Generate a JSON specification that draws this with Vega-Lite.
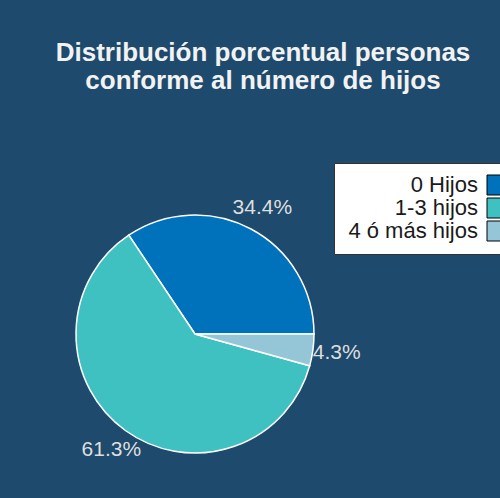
{
  "$schema": "https://vega.github.io/schema/vega-lite/v6.json",
  "autosize": "none",
  "width": 238,
  "height": 238,
  "padding": {"left": 76, "top": 215, "right": 186, "bottom": 45},
  "background": "#1e4a6d",
  "title": {
    "text": ["Distribución porcentual personas", "conforme al número de hijos"],
    "font": "Liberation Sans",
    "fontSize": 26,
    "fontWeight": "bold",
    "color": "#f2f2f2",
    "anchor": "middle",
    "frame": "group",
    "dx": 68,
    "offset": 69,
    "lineHeight": 28
  },
  "data": {
    "values": [
      {"categoria": "0 Hijos", "valor": 0.344},
      {"categoria": "1-3 hijos", "valor": 0.613},
      {"categoria": "4 ó más hijos", "valor": 0.043}
    ]
  },
  "encoding": {
    "theta": {"field": "valor", "type": "quantitative", "stack": true, "scale": {"range": [1.5708, 7.854]}},
    "order": {"field": "categoria", "type": "ordinal", "sort": "descending"}
  },
  "layer": [
    {
      "mark": {"type": "arc", "stroke": "white", "strokeWidth": 1.5},
      "encoding": {
        "color": {
          "field": "categoria",
          "type": "nominal",
          "scale": {"domain": ["0 Hijos", "1-3 hijos", "4 ó más hijos"], "range": ["#0072bb", "#3fc1c1", "#94c6d7"]},
          "legend": {
            "title": null,
            "orient": "none",
            "legendX": 258,
            "legendY": -52,
            "padding": 11,
            "fillColor": "white",
            "strokeColor": "#333333",
            "symbolType": "square",
            "symbolSize": 400,
            "symbolStrokeColor": "black",
            "symbolStrokeWidth": 1,
            "symbolOpacity": 1,
            "symbolOffset": 141,
            "labelOffset": -30,
            "labelAlign": "right",
            "labelFont": "Liberation Sans",
            "labelFontSize": 22,
            "labelColor": "#1a1a1a",
            "labelLimit": 300,
            "rowPadding": -3
          }
        }
      }
    },
    {
      "mark": {"type": "text", "radius": 143, "font": "Liberation Sans", "fontSize": 21, "color": "#dedede", "baseline": "middle", "align": "center"},
      "encoding": {
        "text": {"field": "valor", "type": "quantitative", "format": ".1%"}
      }
    }
  ],
  "config": {"view": {"stroke": null}}
}
